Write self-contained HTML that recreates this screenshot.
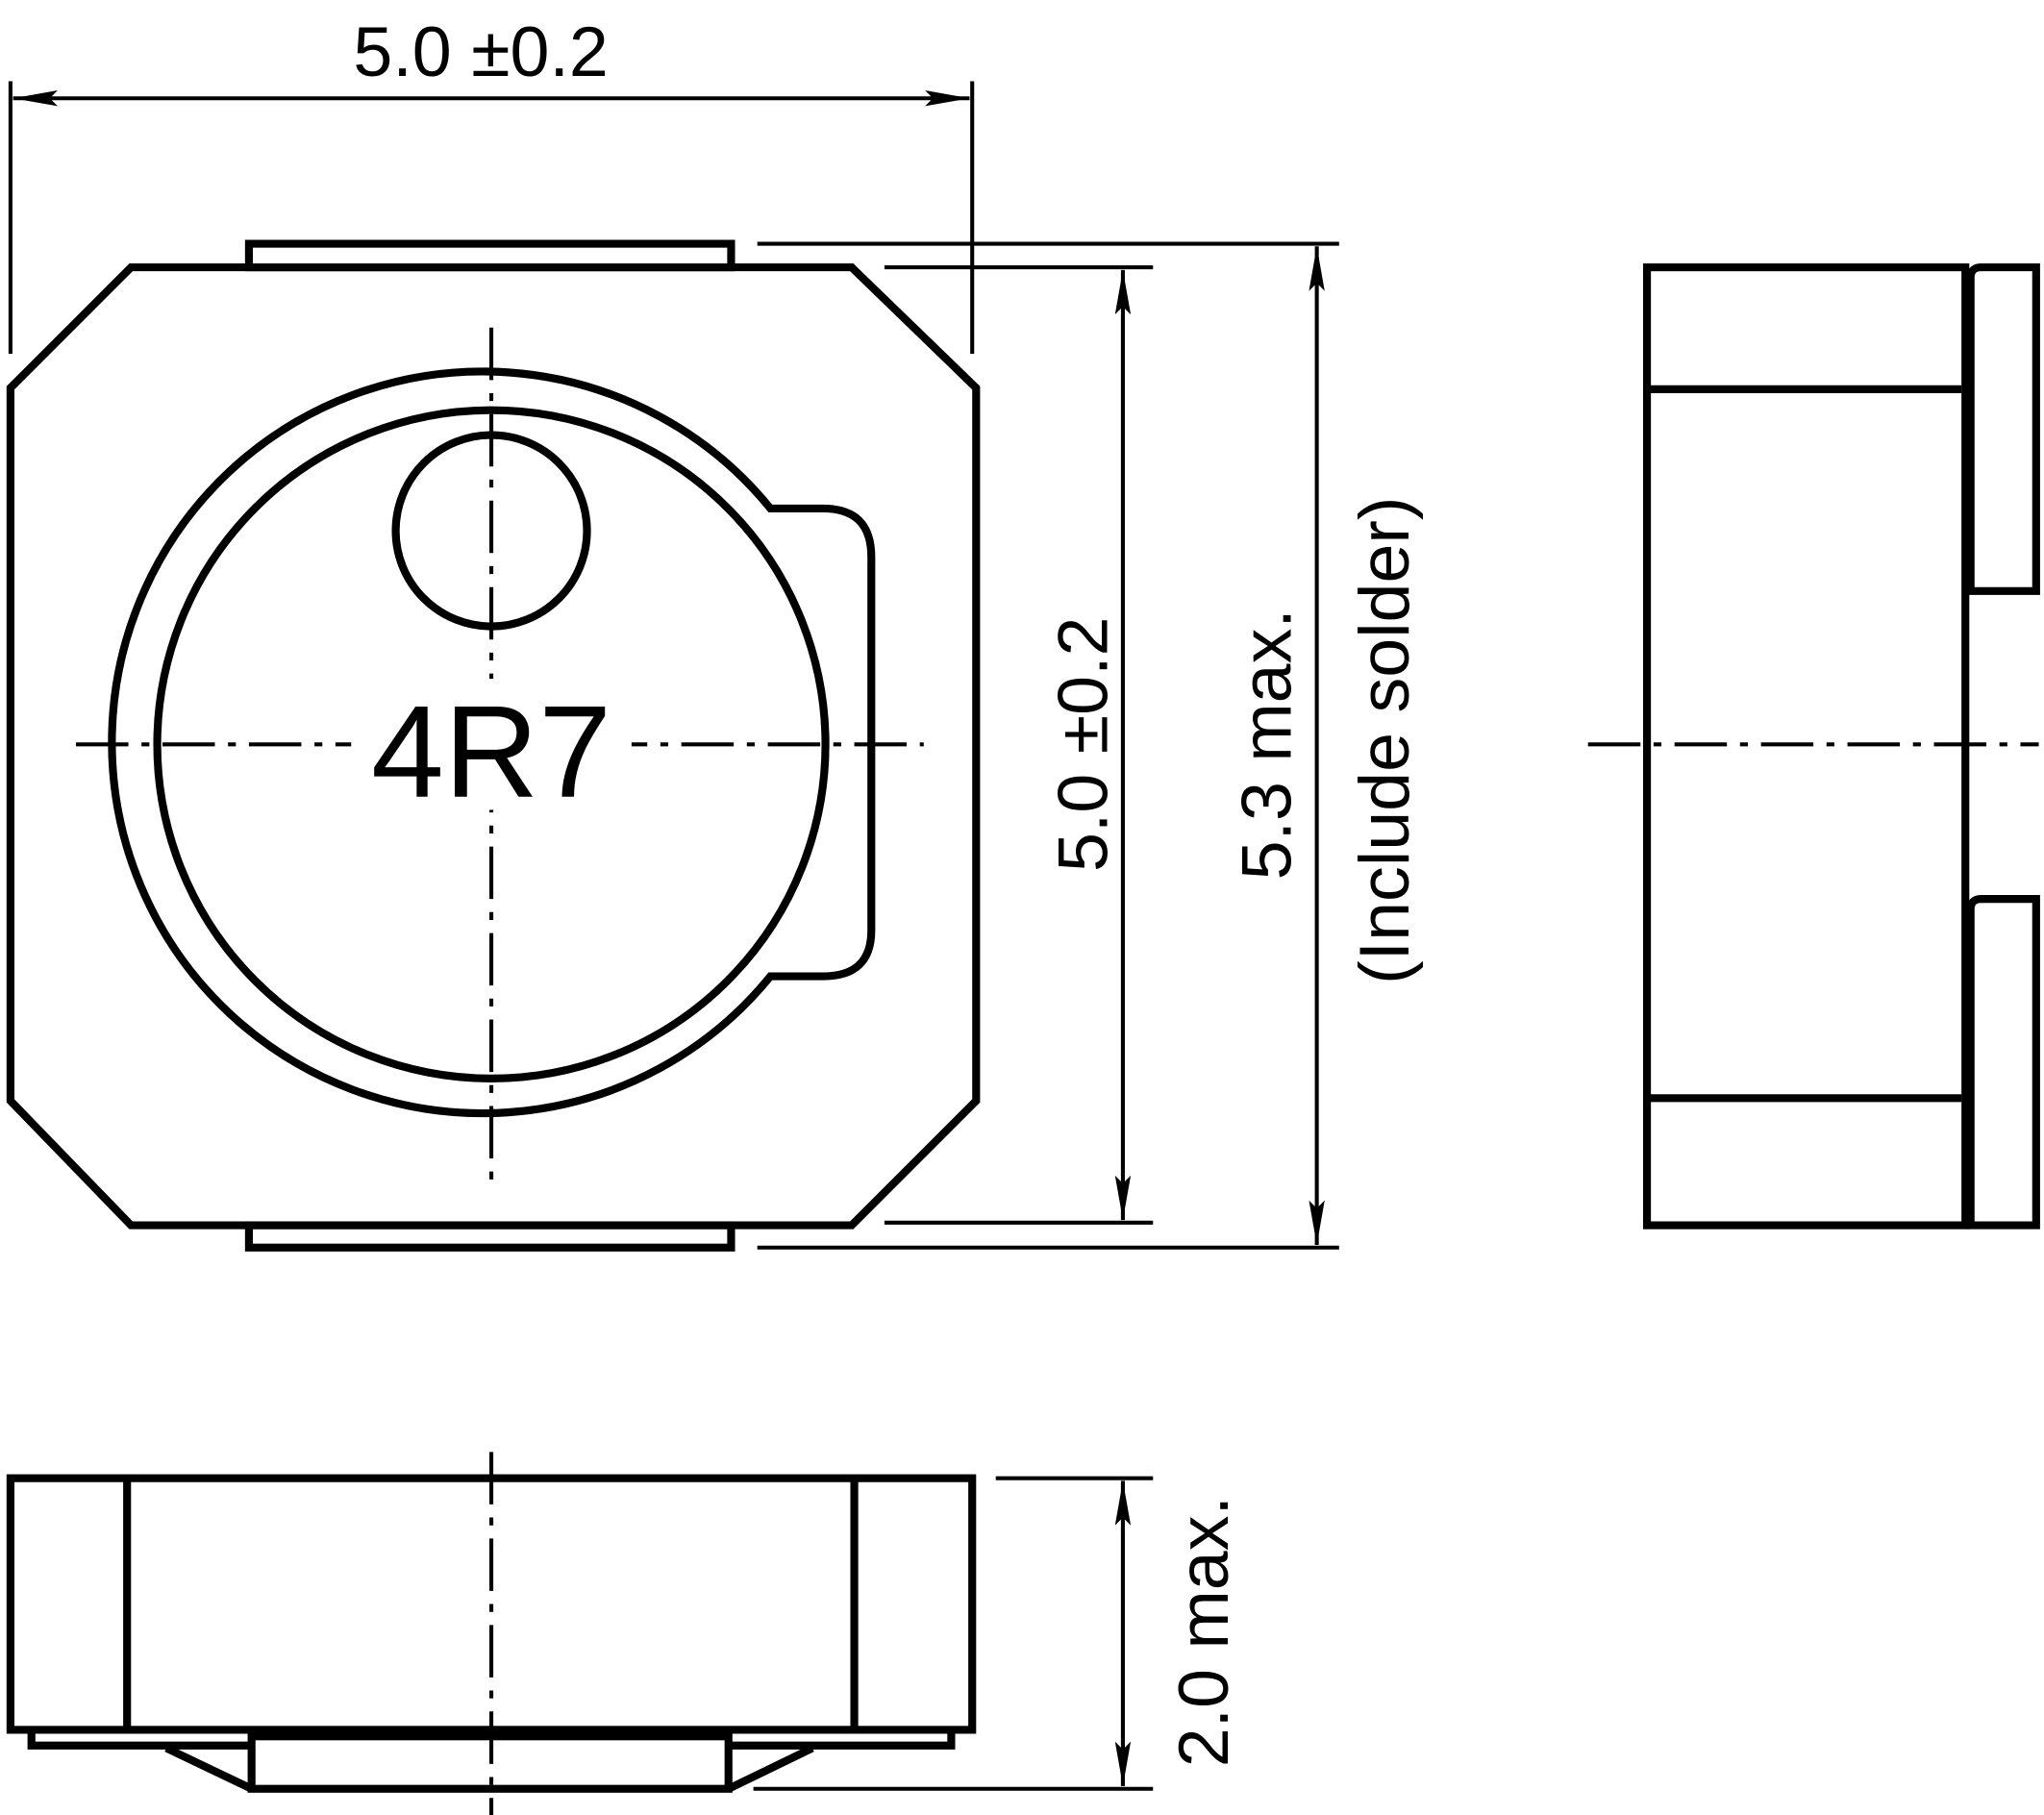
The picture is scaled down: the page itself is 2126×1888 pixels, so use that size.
<!DOCTYPE html>
<html><head><meta charset="utf-8"><style>html,body{margin:0;padding:0;background:#fff}svg{display:block}</style></head>
<body>
<svg width="2126" height="1888" viewBox="0 0 1560 1385" preserveAspectRatio="none" xmlns="http://www.w3.org/2000/svg" font-family="Liberation Sans, sans-serif">
<defs>
<marker id="a" viewBox="0 0 34 12" refX="34" refY="6" markerWidth="34" markerHeight="12" markerUnits="userSpaceOnUse" orient="auto-start-reverse"><path d="M0,0 L34,6 L0,12 L6,6 Z" fill="#000"/></marker>
</defs>
<g fill="none" stroke="#000" stroke-width="6">
<path d="M100,204 L650,204 L745,296 L745,840 L650,935 L100,935 L8,840 L8,296 Z"/>
<rect x="190" y="186" width="368" height="18"/>
<rect x="190" y="935" width="368" height="17"/>
<path d="M588,388 L628,388 Q665,388 665,425 L665,710 Q665,745 628,745 L588,745 A283,283 0 1 1 588,388 Z"/>
<circle cx="375" cy="568" r="255"/>
<circle cx="375" cy="405" r="73"/>
</g>
<g stroke="#000" stroke-width="3" fill="none" stroke-dasharray="40,10,6,10">
<line x1="58" y1="568" x2="705" y2="568"/>
<line x1="375" y1="250" x2="375" y2="900"/>
<line x1="1212" y1="568" x2="1556" y2="568"/>
<line x1="375" y1="1108" x2="375" y2="1385"/>
</g>
<rect x="268" y="518" width="214" height="100" fill="#fff"/>
<text x="375" y="608" font-size="100" text-anchor="middle">4R7</text>
<g stroke="#000" stroke-width="3" fill="none">
<line x1="8" y1="62" x2="8" y2="270"/>
<line x1="742" y1="62" x2="742" y2="270"/>
<line x1="10" y1="75" x2="740" y2="75" marker-start="url(#a)" marker-end="url(#a)"/>
<line x1="578" y1="186" x2="1022" y2="186"/>
<line x1="675" y1="204" x2="880" y2="204"/>
<line x1="675" y1="933" x2="880" y2="933"/>
<line x1="578" y1="952" x2="1022" y2="952"/>
<line x1="857" y1="206" x2="857" y2="931" marker-start="url(#a)" marker-end="url(#a)"/>
<line x1="1005" y1="188" x2="1005" y2="950" marker-start="url(#a)" marker-end="url(#a)"/>
<line x1="760" y1="1128" x2="880" y2="1128"/>
<line x1="575" y1="1365" x2="880" y2="1365"/>
<line x1="857" y1="1130" x2="857" y2="1363" marker-start="url(#a)" marker-end="url(#a)"/>
</g>
<text x="367" y="58" font-size="54" text-anchor="middle">5.0 ±0.2</text>
<text transform="translate(845,568) rotate(-90)" font-size="54" text-anchor="middle">5.0 ±0.2</text>
<text transform="translate(985,568) rotate(-90)" font-size="54" text-anchor="middle">5.3 max.</text>
<text transform="translate(1075,565) rotate(-90)" font-size="54" text-anchor="middle">(Include solder)</text>
<text transform="translate(937,1245) rotate(-90)" font-size="54" text-anchor="middle">2.0 max.</text>
<g fill="none" stroke="#000" stroke-width="6">
<rect x="1257" y="204" width="243" height="731"/>
<line x1="1257" y1="297" x2="1497" y2="297"/>
<line x1="1257" y1="838" x2="1497" y2="838"/>
<path d="M1554,204 L1512,204 Q1504,204 1504,212 L1504,451 L1554,451 Z"/>
<path d="M1554,686 L1512,686 Q1504,686 1504,694 L1504,935 L1554,935 Z"/>
</g>
<g fill="none" stroke="#000" stroke-width="6">
<rect x="8" y="1128" width="734" height="192"/>
<line x1="97" y1="1128" x2="97" y2="1320"/>
<line x1="652" y1="1128" x2="652" y2="1320"/>
<path d="M24,1320 L24,1332 L192,1332 M556,1332 L726,1332 L726,1320"/>
<rect x="192" y="1325" width="364" height="40"/>
<line x1="127" y1="1334" x2="192" y2="1365"/>
<line x1="620" y1="1334" x2="556" y2="1365"/>
</g>
</svg>
</body></html>
